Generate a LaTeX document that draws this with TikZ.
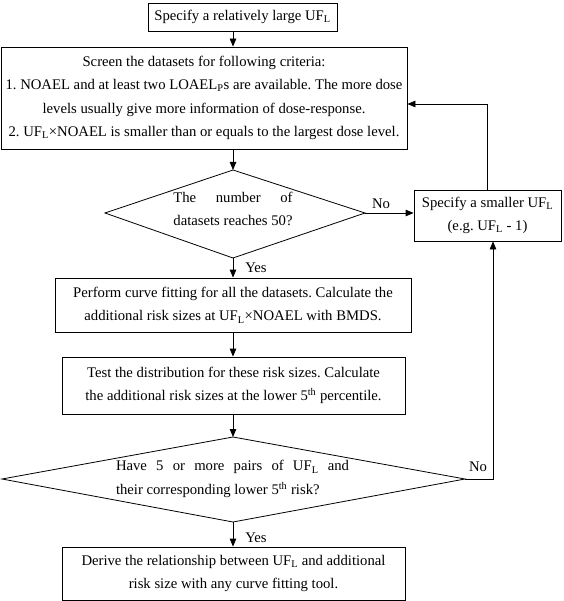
\documentclass[tikz,border=0pt]{standalone}
\usepackage{fontspec}
\setmainfont{Liberation Serif}
\usetikzlibrary{arrows.meta}
\newcommand{\UFL}{UF\textsubscript{L}}
\newcommand{\fsz}{\fontsize{14.7}{23.5}\selectfont\frenchspacing}
\newlength{\lwa}
\begin{document}
\begin{tikzpicture}[x=1pt,y=-1pt,
  box/.style={draw, line width=0.8pt, align=center, inner sep=0pt, font=\fsz},
  lbl/.style={inner sep=0pt, font=\fsz},
  dtext/.style={inner sep=0pt, align=left, font=\fsz},
  arr/.style={line width=0.8pt, -{Triangle[length=8pt,width=6.5pt]}},
  ln/.style={line width=0.8pt}]
\useasboundingbox (0,0) rectangle (563,601);
\coordinate (cx) at (233,0);
% boxes
\node[box, minimum width=189, minimum height=28] (b1) at (242.5,17) {Specify a relatively large \UFL};
\node[box, minimum width=406, minimum height=102] (b2) at (204,98) {Screen the datasets for following criteria:\\
1. NOAEL and at least two LOAEL\textsubscript{P}s are available. The more dose\\
levels usually give more information of dose-response.\\
2. \UFL×NOAEL is smaller than or equals to the largest dose level.};
\node[box, minimum width=147, minimum height=51] (s) at (487.5,215.5) {Specify a smaller \UFL\\(e.g. \UFL{} - 1)};
\node[box, minimum width=356, minimum height=54] (b3) at (233,305) {Perform curve fitting for all the datasets. Calculate the\\additional risk sizes at \UFL×NOAEL with BMDS.};
\node[box, minimum width=343, minimum height=57] (b4) at (233.5,385.5) {Test the distribution for these risk sizes. Calculate\\the additional risk sizes at the lower 5\textsuperscript{th} percentile.};
\node[box, minimum width=343, minimum height=53] (b5) at (233.5,573.5) {Derive the relationship between \UFL{} and additional\\risk size with any curve fitting tool.};
% diamond 1
\coordinate (d1t) at (233,170);
\coordinate (d1r) at (365,213);
\coordinate (d1b) at (233,258);
\coordinate (d1l) at (105,213);
\draw[ln] (d1t) -- (d1r) -- (d1b) -- (d1l) -- cycle;
\node[dtext] (t1) at (233,209) {\settowidth{\lwa}{datasets reaches 50?}\makebox[\lwa][s]{The number of}\\datasets reaches 50?};
% diamond 2
\coordinate (d2t) at (233,437);
\coordinate (d2r) at (465,479);
\coordinate (d2b) at (233,522);
\coordinate (d2l) at (2,479);
\draw[ln] (d2t) -- (d2r) -- (d2b) -- (d2l) -- cycle;
\node[dtext] (t2) at (232.5,479) {\makebox[233pt][s]{Have 5 or more pairs of \UFL{} and}\\their corresponding lower 5\textsuperscript{th} risk?};
% connectors
\draw[arr] (b1.south -| cx) -- (b2.north -| cx);
\draw[arr] (b2.south -| cx) -- (d1t);
\draw[arr] (d1r) -- (s.west |- d1r);
\draw[arr] (d1b) -- (b3.north -| d1b);
\draw[arr] (b3.south -| cx) -- (b4.north -| cx);
\draw[arr] (b4.south -| cx) -- (d2t);
\draw[arr] (d2b) -- (b5.north -| d2b);
\coordinate (lx) at (487,104);
\draw[arr] (s.north -| lx) -- (lx) -- (b2.east |- lx);
\coordinate (rx) at (493,479);
\draw[arr] (d2r) -- (rx) -- (s.south -| rx);
% labels
\node[lbl] (no1) at (381,204) {No};
\node[lbl] (yes1) at (256,268) {Yes};
\node[lbl] (no2) at (478,467) {No};
\node[lbl] (yes2) at (256,538) {Yes};
\end{tikzpicture}
\end{document}
